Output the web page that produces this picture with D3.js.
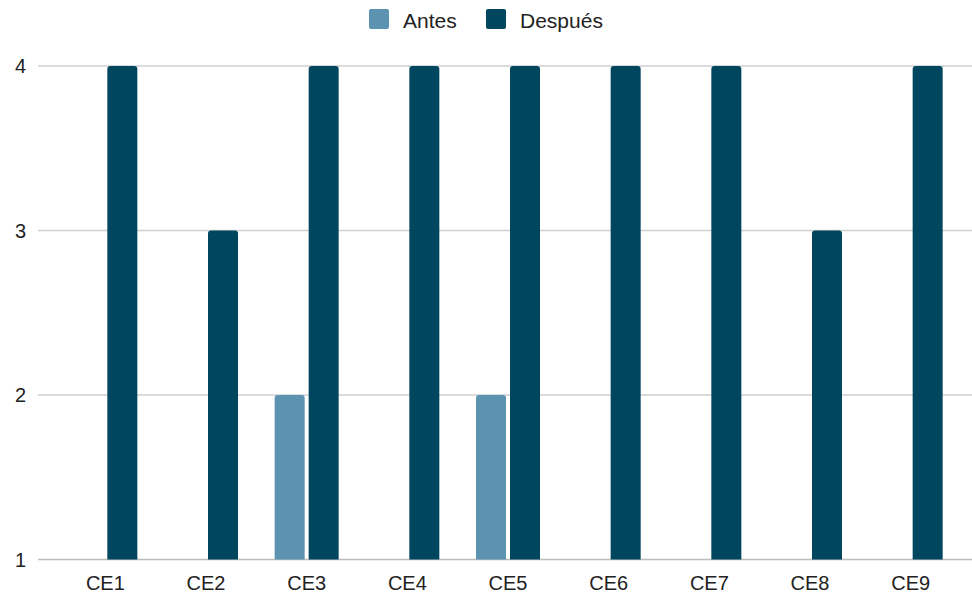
<!DOCTYPE html>
<html>
<head>
<meta charset="utf-8">
<script src="https://cdn.jsdelivr.net/npm/d3@7"></script>
<style>
  body { margin: 0; background: #fff; }
  text { font-family: "Liberation Sans", Arial, sans-serif; fill: #222; }
</style>
</head>
<body>
<div id="chart"></div>
<script>
// data
var categories = ['CE1', 'CE2', 'CE3', 'CE4', 'CE5', 'CE6', 'CE7', 'CE8', 'CE9']
var antes = [1, 1, 2, 1, 2, 1, 1, 1, 1]
var despues = [4, 3, 4, 4, 4, 4, 4, 3, 4]
var yTicks = [1, 2, 3, 4]
var seriesNames = ['Antes', 'Después']
var colors = ['#5b93b0', '#01465f']

var w = 972, h = 594
var svg = d3.select('#chart').append('svg')
  .attr('width', w)
  .attr('height', h)

var x = d3.scaleBand().domain(categories).range([55, 961])
var y = d3.scaleLinear().domain([1, 4]).range([559.5, 66])

// grid lines
svg.selectAll('line.grid')
  .data(yTicks)
  .enter()
  .append('line')
  .attr('x1', 38).attr('x2', 972)
  .attr('y1', function(d){ return y(d) })
  .attr('y2', function(d){ return y(d) })
  .attr('stroke', function(d){ return d === 1 ? '#bdbdbd' : '#cfcfcf' })
  .attr('stroke-width', 1.5)

// y tick labels
svg.selectAll('text.ytick')
  .data(yTicks)
  .enter()
  .append('text')
  .attr('x', 26)
  .attr('y', function(d){ return y(d) + 7 })
  .attr('text-anchor', 'end')
  .attr('font-size', '20px')
  .text(function(d){ return d })

// bars
var barW = 30, gap = 4
function roundTop(x0, y0, bw, bh, r){
  if (bh <= 0) return ''
  r = Math.min(r, bh)
  return 'M' + x0 + ',' + (y0 + bh) +
    'V' + (y0 + r) +
    'Q' + x0 + ',' + y0 + ' ' + (x0 + r) + ',' + y0 +
    'H' + (x0 + bw - r) +
    'Q' + (x0 + bw) + ',' + y0 + ' ' + (x0 + bw) + ',' + (y0 + r) +
    'V' + (y0 + bh) + 'Z'
}

var series = [antes, despues]
series.forEach(function(vals, s){
  svg.selectAll('path.s' + s)
    .data(vals)
    .enter()
    .append('path')
    .attr('fill', colors[s])
    .attr('d', function(d, i){
      var c = x(categories[i]) + x.bandwidth() / 2
      var x0 = s === 0 ? c - gap / 2 - barW : c + gap / 2
      var top = y(d)
      return roundTop(x0, top, barW, y(1) - top, 3)
    })
})

// x labels
svg.selectAll('text.xtick')
  .data(categories)
  .enter()
  .append('text')
  .attr('x', function(d){ return x(d) + x.bandwidth() / 2 })
  .attr('y', 590)
  .attr('text-anchor', 'middle')
  .attr('font-size', '20px')
  .text(function(d){ return d })

// legend
var legendX = [369, 486]
seriesNames.forEach(function(name, i){
  svg.append('rect')
    .attr('x', legendX[i]).attr('y', 9)
    .attr('width', 20).attr('height', 20)
    .attr('rx', 2)
    .attr('fill', colors[i])
  svg.append('text')
    .attr('x', legendX[i] + 34)
    .attr('y', 28)
    .attr('font-size', '21px')
    .text(name)
})
</script>
</body>
</html>
